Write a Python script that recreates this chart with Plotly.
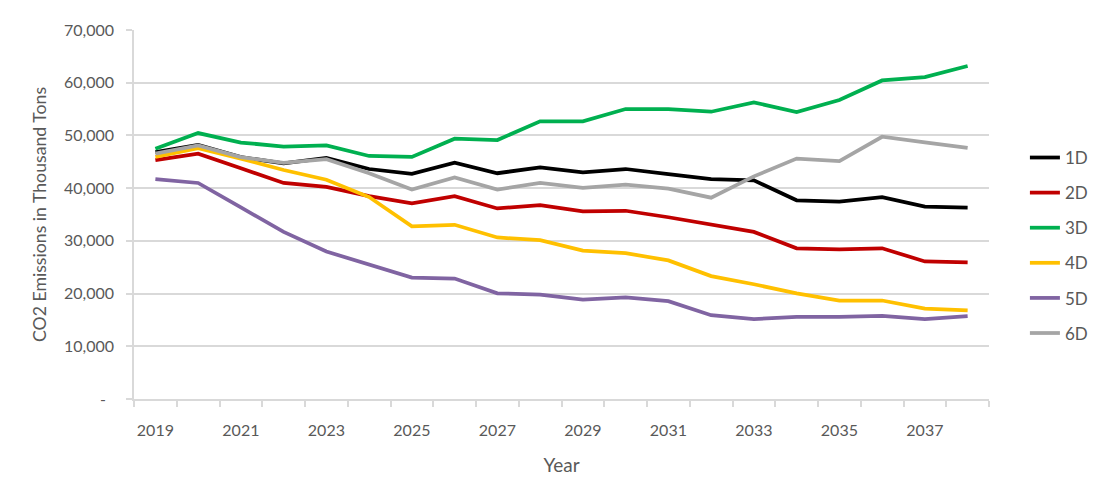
import plotly.graph_objects as go

years = list(range(2019, 2039))
s1D = [46850, 48220, 45900, 44690, 45730, 43630, 42700, 44810, 42830, 43940, 43010, 43630, 42640, 41710, 41470, 37700, 37440, 38310, 36500, 36320]
s2D = [45300, 46550, 43760, 40980, 40230, 38490, 37130, 38490, 36150, 36770, 35590, 35710, 34480, 33110, 31700, 28590, 28400, 28590, 26100, 25920]
s3D = [47480, 50450, 48650, 47900, 48090, 46100, 45920, 49380, 49130, 52670, 52670, 55000, 55000, 54500, 56260, 54440, 56730, 60430, 61080, 63180]
s4D = [45920, 47600, 45600, 43450, 41590, 38310, 32740, 33050, 30640, 30140, 28150, 27650, 26290, 23320, 21770, 20040, 18680, 18680, 17130, 16820]
s5D = [41720, 40980, 36340, 31700, 27980, 25500, 23030, 22840, 20050, 19800, 18870, 19300, 18560, 15900, 15150, 15580, 15580, 15770, 15150, 15710]
s6D = [46540, 48090, 45900, 44800, 45490, 42830, 39730, 42030, 39730, 40980, 40050, 40660, 39920, 38190, 42230, 45600, 45120, 49750, 48680, 47630]

series = [("1D", s1D, "#000000"), ("2D", s2D, "#C00000"), ("3D", s3D, "#00B050"),
          ("4D", s4D, "#FFC000"), ("5D", s5D, "#8064A2"), ("6D", s6D, "#A5A5A5")]

y_ticks = [0, 10000, 20000, 30000, 40000, 50000, 60000, 70000]
y_ticktext = ["-\u00a0\u00a0", "10,000", "20,000", "30,000", "40,000", "50,000", "60,000", "70,000"]
x_tickvals = [2019, 2021, 2023, 2025, 2027, 2029, 2031, 2033, 2035, 2037]

font_family = "Lato"
txt = "#595959"
grid = "#D9D9D9"

fig = go.Figure()
for name, vals, col in series:
    fig.add_trace(go.Scatter(x=years, y=vals, name=name, mode="lines",
                             line=dict(color=col, width=3.75), legendgroup=name))

fig.update_layout(
    width=1108, height=492,
    margin=dict(l=126, r=127, t=14, b=101),
    paper_bgcolor="white", plot_bgcolor="white",
    font=dict(family=font_family, size=16, color=txt),
    showlegend=True,
    legend=dict(x=1.042, y=0.702, xanchor="left", yanchor="top",
                font=dict(family=font_family, size=17, color=txt),
                tracegroupgap=10, bgcolor="rgba(0,0,0,0)"),
)
fig.update_xaxes(
    range=[2018.5, 2038.5], tickmode="array", tickvals=x_tickvals,
    ticktext=[str(v) for v in x_tickvals], ticks="", showgrid=False,
    showline=True, linecolor=grid, linewidth=1.5, zeroline=False,
    minor=dict(tick0=2018.5, dtick=1, ticks="outside", ticklen=6, tickcolor=grid, tickwidth=1.5, showgrid=False),
    ticklabelstandoff=16,
    title=dict(text="Year", font=dict(family=font_family, size=19, color=txt), standoff=21),
)
fig.update_yaxes(
    range=[0, 70000], tickmode="array", tickvals=y_ticks, ticktext=y_ticktext,
    showgrid=True, gridcolor=grid, gridwidth=1.5, zeroline=False,
    showline=True, linecolor=grid, linewidth=1.5,
    ticks="outside", ticklen=6, tickcolor=grid, tickwidth=1.5,
    ticklabelstandoff=9,
    title=dict(text="CO2 Emissions in Thousand Tons", font=dict(family=font_family, size=17.7, color=txt), standoff=13),
)

fig.write_html("out.html")
